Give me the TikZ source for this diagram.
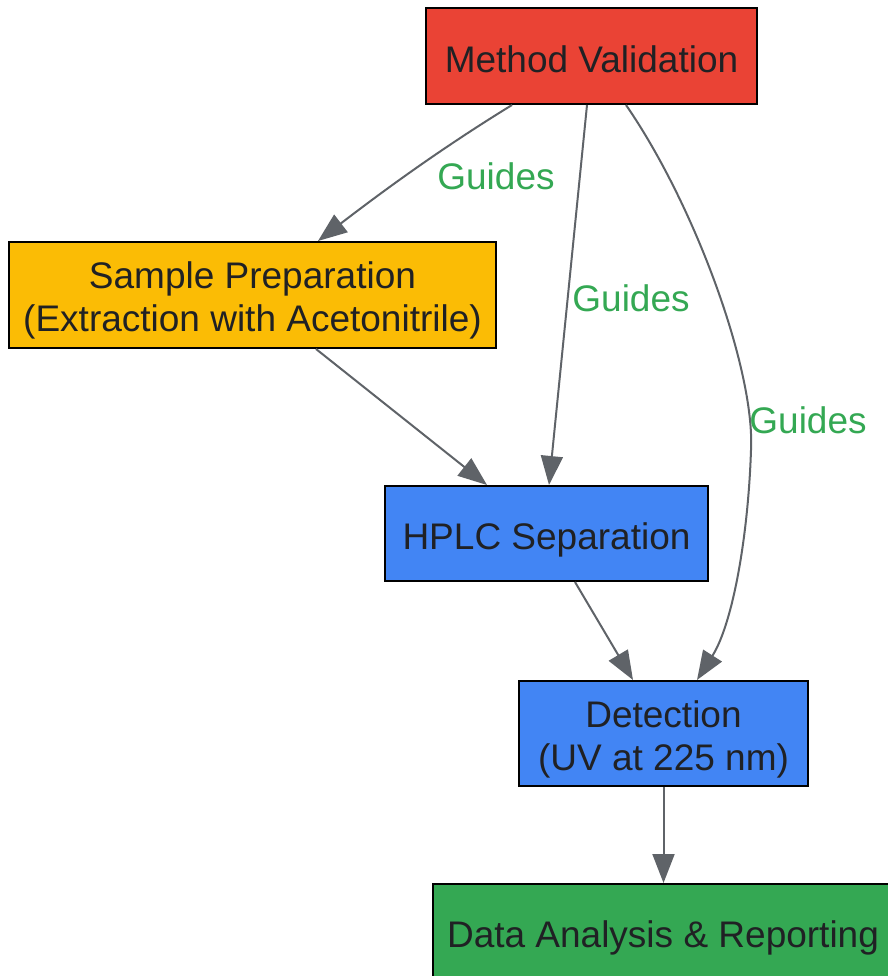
\documentclass[tikz,border=0pt]{standalone}
\usepackage{fontspec}
\setmainfont{Liberation Sans}
\usetikzlibrary{arrows.meta}
\definecolor{cred}{HTML}{EA4335}
\definecolor{cyel}{HTML}{FBBC05}
\definecolor{cblue}{HTML}{4285F4}
\definecolor{cgreen}{HTML}{34A853}
\definecolor{cedge}{HTML}{5F6368}
\definecolor{ctext}{HTML}{202124}
\tikzset{
  box/.style={draw=black, line width=2pt, rectangle, inner sep=0pt},
  tx/.style={text=ctext, align=center, inner sep=0pt, yshift=-5pt,
    font=\fontsize{37}{43}\selectfont},
  edge/.style={draw=cedge, line width=2pt, -{Triangle[length=29pt,width=22pt]}},
  lbl/.style={text=cgreen, font=\fontsize{37}{43}\selectfont, inner sep=0pt}
}
\begin{document}
\begin{tikzpicture}[x=1pt,y=-1pt]
\useasboundingbox (0,0) rectangle (887,976);
\node[box, fill=cred, minimum width=331pt, minimum height=96pt,
  label={[tx,yshift=2pt]center:Method Validation}] (mv) at (591.5,56) {};
\node[box, fill=cyel, minimum width=487pt, minimum height=106pt,
  label={[tx]center:Sample Preparation\\(Extraction with Acetonitrile)}] (sp) at (252.5,295) {};
\node[box, fill=cblue, minimum width=323pt, minimum height=95pt,
  label={[tx,yshift=-1pt]center:HPLC Separation}] (hp) at (546.5,533.5) {};
\node[box, fill=cblue, minimum width=289pt, minimum height=105pt,
  label={[tx,yshift=-1pt]center:Detection\\(UV at 225 nm)}] (dt) at (663.5,733.5) {};
\node[box, fill=cgreen, minimum width=460pt, minimum height=102pt,
  label={[tx,yshift=2pt]center:Data Analysis \& Reporting}] (da) at (663,935) {};

\draw[edge] ([xshift=-79.5pt]mv.south) .. controls (455,140) and (400,178) .. ([xshift=65.5pt]sp.north);
\draw[edge] ([xshift=-4.5pt]mv.south) -- ([xshift=2.5pt]hp.north);
\draw[edge] ([xshift=34.5pt]mv.south) .. controls (695,205) and (755,370) .. (751,450) .. controls (748,540) and (732,625) .. ([xshift=33.5pt]dt.north);
\draw[edge] ([xshift=63.5pt]sp.south) -- ([xshift=-59.5pt]hp.north);
\draw[edge] ([xshift=28.5pt]hp.south) -- ([xshift=-30.5pt]dt.north);
\draw[edge] (dt.south) -- ([xshift=0.5pt]da.north);

\node[lbl] (g1) at (496,176) {Guides};
\node[lbl] (g2) at (631,298) {Guides};
\node[lbl] (g3) at (808,420) {Guides};
\end{tikzpicture}
\end{document}
